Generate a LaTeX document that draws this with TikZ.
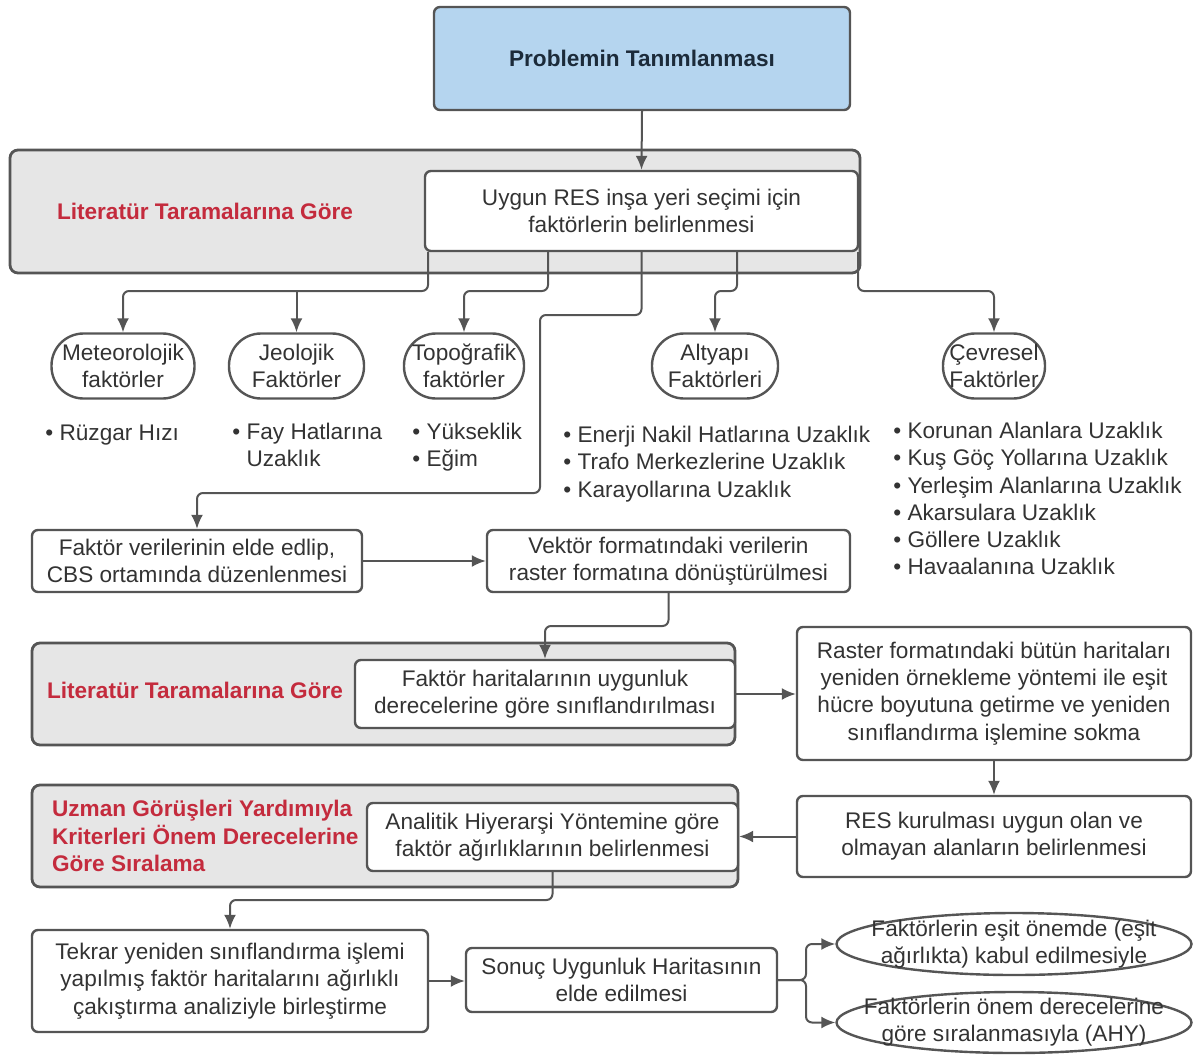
\documentclass[tikz,border=0pt]{standalone}
\usepackage{fontspec}
\setmainfont{Liberation Sans}
\usetikzlibrary{shapes.geometric,arrows.meta}
\definecolor{lnc}{HTML}{555555}
\definecolor{txt}{HTML}{333333}
\definecolor{navy}{HTML}{1C2B3A}
\definecolor{probfill}{HTML}{B5D5EF}
\definecolor{grpfill}{HTML}{E6E6E6}
\definecolor{redc}{HTML}{C42B3D}

\begin{document}
\begin{tikzpicture}[x=0.5pt,y=-0.5pt,>={Latex[length=7pt,width=6pt]},
	font=\fontsize{11.3}{13.6}\selectfont, text=txt,
	box/.style={draw=lnc, line width=1.2pt, rounded corners=3pt, fill=white, align=center, inner sep=0pt},
	grp/.style={draw=lnc, line width=1.4pt, rounded corners=4pt, fill=grpfill, inner sep=0pt},
	pill/.style={draw=lnc, line width=1.2pt, rounded corners=16pt, fill=white, align=center, inner sep=0pt, minimum height=32.5pt},
	oval/.style={ellipse, draw=lnc, line width=1.2pt, fill=white, inner sep=0pt, minimum width=177.5pt},
	redlbl/.style={text=redc, font=\fontsize{11.3}{13.6}\selectfont\bfseries},
	lst/.style={anchor=north west, align=left, inner sep=0pt},
	arr/.style={->, draw=lnc, line width=1pt, rounded corners=3pt},
	ln/.style={draw=lnc, line width=1pt, rounded corners=3pt}]
	\useasboundingbox (0,0) rectangle (1194,1055);

	% top
	\node[box, fill=probfill, text=navy, font=\fontsize{11.3}{13.6}\selectfont\bfseries, minimum width=208pt, minimum height=51.5pt] (prob) at (642,58.5) {Problemin Tanımlanması};
	\node[grp, minimum width=425pt, minimum height=61.5pt] (grp1) at (435,211.5) {};
	\node[redlbl] (lbl1) at (205,211) {Literatür Taramalarına Göre};
	\node[box, minimum width=216.5pt, minimum height=40pt] (defn) at (641.5,211) {Uygun RES inşa yeri seçimi için\\faktörlerin belirlenmesi};

	% factor groups
	\node[pill, minimum width=71.5pt] (met) at (123,366) {Meteorolojik\\faktörler};
	\node[pill, minimum width=67.5pt] (jeo) at (296.5,366) {Jeolojik\\Faktörler};
	\node[pill, minimum width=60pt] (topo) at (464,366) {Topoğrafik\\faktörler};
	\node[pill, minimum width=63pt] (alt) at (715,366) {Altyapı\\Faktörleri};
	\node[pill, minimum width=51pt] (cev) at (994,366) {Çevresel\\Faktörler};

	\node[lst] (lmet) at (45,425) {• Rüzgar Hızı};
	\node[lst] (ljeo) at (232,423) {• Fay Hatlarına\\\phantom{• }Uzaklık};
	\node[lst] (ltopo) at (412,423) {• Yükseklik\\• Eğim};
	\node[lst] (lalt) at (563,426) {• Enerji Nakil Hatlarına Uzaklık\\• Trafo Merkezlerine Uzaklık\\• Karayollarına Uzaklık};
	\node[lst] (lcev) at (893,422) {• Korunan Alanlara Uzaklık\\• Kuş Göç Yollarına Uzaklık\\• Yerleşim Alanlarına Uzaklık\\• Akarsulara Uzaklık\\• Göllere Uzaklık\\• Havaalanına Uzaklık};

	% middle
	\node[box, minimum width=165pt, minimum height=31pt] (veri) at (197,561) {Faktör verilerinin elde edlip,\\CBS ortamında düzenlenmesi};
	\node[box, minimum width=181.5pt, minimum height=31pt] (vekt) at (668.5,561) {Vektör formatındaki verilerin\\raster formatına dönüştürülmesi};
	\node[grp, minimum width=351.5pt, minimum height=51pt] (grp2) at (383.5,694) {};
	\node[redlbl] (lbl2) at (195,690) {Literatür Taramalarına Göre};
	\node[box, minimum width=190pt, minimum height=34pt] (fhar) at (545,694) {Faktör haritalarının uygunluk\\derecelerine göre sınıflandırılması};
	\node[box, minimum width=197pt, minimum height=66.5pt] (rast) at (994,693.5) {Raster formatındaki bütün haritaları\\yeniden örnekleme yöntemi ile eşit\\hücre boyutuna getirme ve yeniden\\sınıflandırma işlemine sokma};
	\node[box, minimum width=197pt, minimum height=40.5pt] (resk) at (994,836.5) {RES kurulması uygun olan ve\\olmayan alanların belirlenmesi};
	\node[grp, minimum width=353pt, minimum height=51pt] (grp3) at (385,836) {};
	\node[redlbl, anchor=west, align=left] (lbl3) at (45,836) {Uzman Görüşleri Yardımıyla\\Kriterleri Önem Derecelerine\\Göre Sıralama};
	\node[box, minimum width=185.5pt, minimum height=34pt] (ahy) at (552.5,837) {Analitik Hiyerarşi Yöntemine göre\\faktör ağırlıklarının belirlenmesi};

	% bottom
	\node[box, minimum width=198pt, minimum height=51pt] (tekr) at (230,981) {Tekrar yeniden sınıflandırma işlemi\\yapılmış faktör haritalarını ağırlıklı\\çakıştırma analiziyle birleştirme};
	\node[box, minimum width=155.5pt, minimum height=32pt] (son) at (621.5,980) {Sonuç Uygunluk Haritasının\\elde edilmesi};
	\node[oval, minimum height=31pt] (esit) at (1014,944) {};
	\node[align=center, inner sep=0pt] (esitt) at (esit) {Faktörlerin eşit önemde (eşit\\ağırlıkta) kabul edilmesiyle};
	\node[oval, minimum height=30.5pt] (onem) at (1014,1022.5) {};
	\node[align=center, inner sep=0pt] (onemt) at (onem) {Faktörlerin önem derecelerine\\göre sıralanmasıyla (AHY)};

	% connectors
	\coordinate (k1) at (428,291);
	\coordinate (k2) at (548,291);
	\coordinate (k3) at (540,315);
	\coordinate (k4) at (540,493);
	\coordinate (k5) at (737,291);
	\coordinate (k6) at (858,291);
	\coordinate (k7) at (600,626);
	\coordinate (k8) at (400,900);
	\coordinate (k9) at (806,980);
	\draw[arr] (prob.south) -- (defn.north);
	\draw[arr] (defn.south -| k1) -- (k1) -| (met.north);
	\draw[arr] (k1 -| jeo.north) -- (jeo.north);
	\draw[arr] (defn.south -| k2) -- (k2) -| (topo.north);
	\draw[arr] (defn.south) |- (k3) -- (k4) -| (veri.north);
	\draw[arr] (defn.south -| k5) -- (k5) -| (alt.north);
	\draw[arr] (defn.south -| k6) -- (k6) -| (cev.north);
	\draw[arr] (veri.east) -- (vekt.west);
	\draw[arr] (vekt.south) |- (k7) -| (fhar.north);
	\draw[arr] (fhar.east) -- (fhar.east -| rast.west);
	\draw[arr] (rast.south) -- (resk.north);
	\draw[arr] (resk.west) -- (resk.west -| ahy.east);
	\draw[arr] (ahy.south) |- (k8) -| (tekr.north);
	\draw[arr] (tekr.east) -- (tekr.east -| son.west);
	\draw[arr] (son.east) -- (k9) |- (esit.west);
	\draw[arr] (son.east) -- (k9) |- (onem.west);
\end{tikzpicture}
\end{document}
